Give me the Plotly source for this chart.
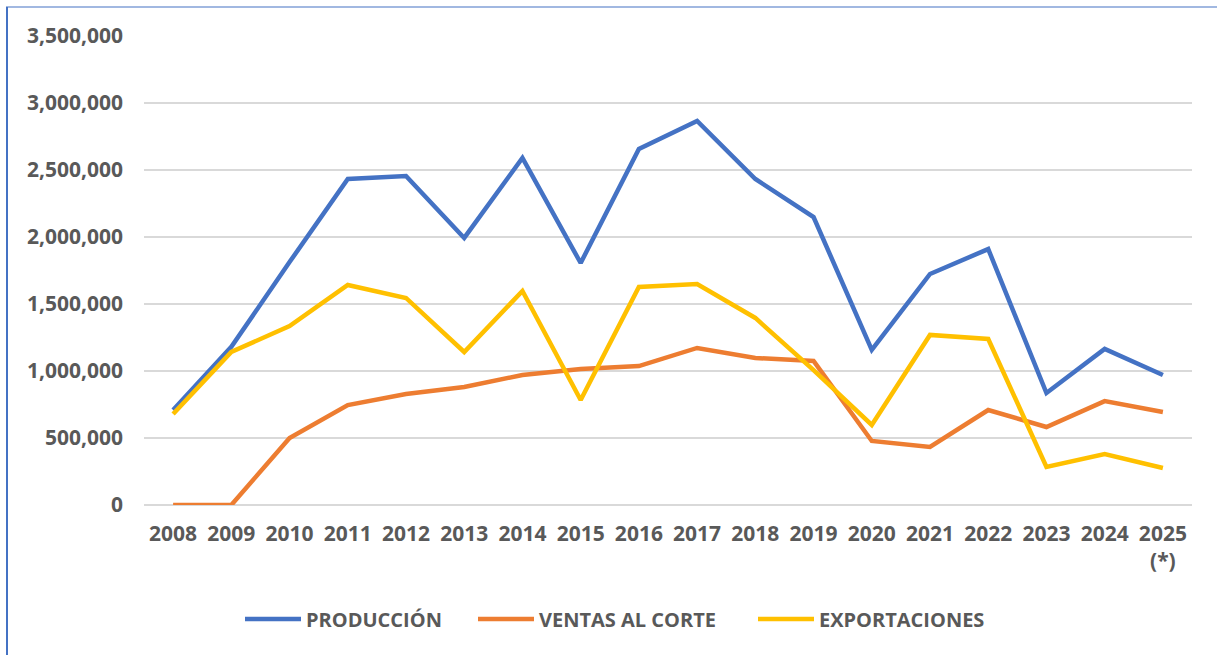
import plotly.graph_objects as go

years = ["2008", "2009", "2010", "2011", "2012", "2013", "2014", "2015", "2016",
         "2017", "2018", "2019", "2020", "2021", "2022", "2023", "2024", "2025<br>(*)"]
produccion = [709000, 1180000, 1813000, 2433000, 2455000, 1993000, 2590000, 1806000, 2657000,
              2866000, 2433000, 2149000, 1157000, 1724000, 1910000, 836000, 1165000, 970000]
ventas = [0, 0, 500000, 746000, 828000, 881000, 970000, 1015000, 1037000,
          1172000, 1097000, 1075000, 478000, 433000, 709000, 582000, 775000, 694000]
exportaciones = [679000, 1142000, 1336000, 1642000, 1545000, 1142000, 1597000, 784000, 1627000,
                 1649000, 1396000, 1007000, 597000, 1269000, 1239000, 284000, 381000, 276000]

series = [("PRODUCCIÓN", produccion, "#4472C4", "legend"),
          ("VENTAS AL CORTE", ventas, "#ED7D31", "legend2"),
          ("EXPORTACIONES", exportaciones, "#FFC000", "legend3")]

fig = go.Figure()
for name, vals, color, lg in series:
    fig.add_trace(go.Scatter(x=years, y=vals, name=name, mode="lines", legend=lg,
                             line=dict(color=color, width=4.5)))

font = dict(family="Open Sans", size=21, color="#595959", weight="bold")
lfont = dict(family="Open Sans", size=20, color="#595959", weight="bold")

W, H = 1217, 655
L, R, T, B = 144, 25, 36, 150
pw, ph = W - L - R, H - T - B

def px(x):
    return (x - L) / pw

def py(y):
    return (H - B - y) / ph

def leg(xstart):
    return dict(orientation="h", x=px(xstart), xanchor="left", y=py(619), yanchor="middle",
                font=lfont, itemwidth=56, bgcolor="rgba(0,0,0,0)")

fig.update_layout(
    width=W, height=H,
    margin=dict(l=L, r=R, t=T, b=B),
    paper_bgcolor="white", plot_bgcolor="white",
    font=font,
    showlegend=True,
    legend=leg(240),
    legend2=leg(473),
    legend3=leg(753),
    xaxis=dict(type="category", range=[-0.5, 17.5], showgrid=False, showline=False, zeroline=False,
               tickfont=font, ticks="", ticklabelstandoff=14),
    yaxis=dict(range=[0, 3500000], dtick=500000, tickformat=",d",
               showgrid=True, gridcolor="#D9D9D9", gridwidth=1.5,
               zeroline=True, zerolinecolor="#D9D9D9", zerolinewidth=1.5,
               showline=False, tickfont=font, ticks="", ticklabelstandoff=20),
    shapes=[
        dict(type="line", xref="paper", yref="paper", x0=px(7), x1=px(7), y0=py(7), y1=py(656),
             line=dict(color="#4472C4", width=2)),
        dict(type="line", xref="paper", yref="paper", x0=px(6), x1=px(1218), y0=py(7), y1=py(7),
             line=dict(color="#4472C4", width=1.2)),
    ],
)

fig.write_html("out.html", config={"displayModeBar": False},
               post_script="document.body.style.margin='0';document.body.style.overflow='hidden';")
